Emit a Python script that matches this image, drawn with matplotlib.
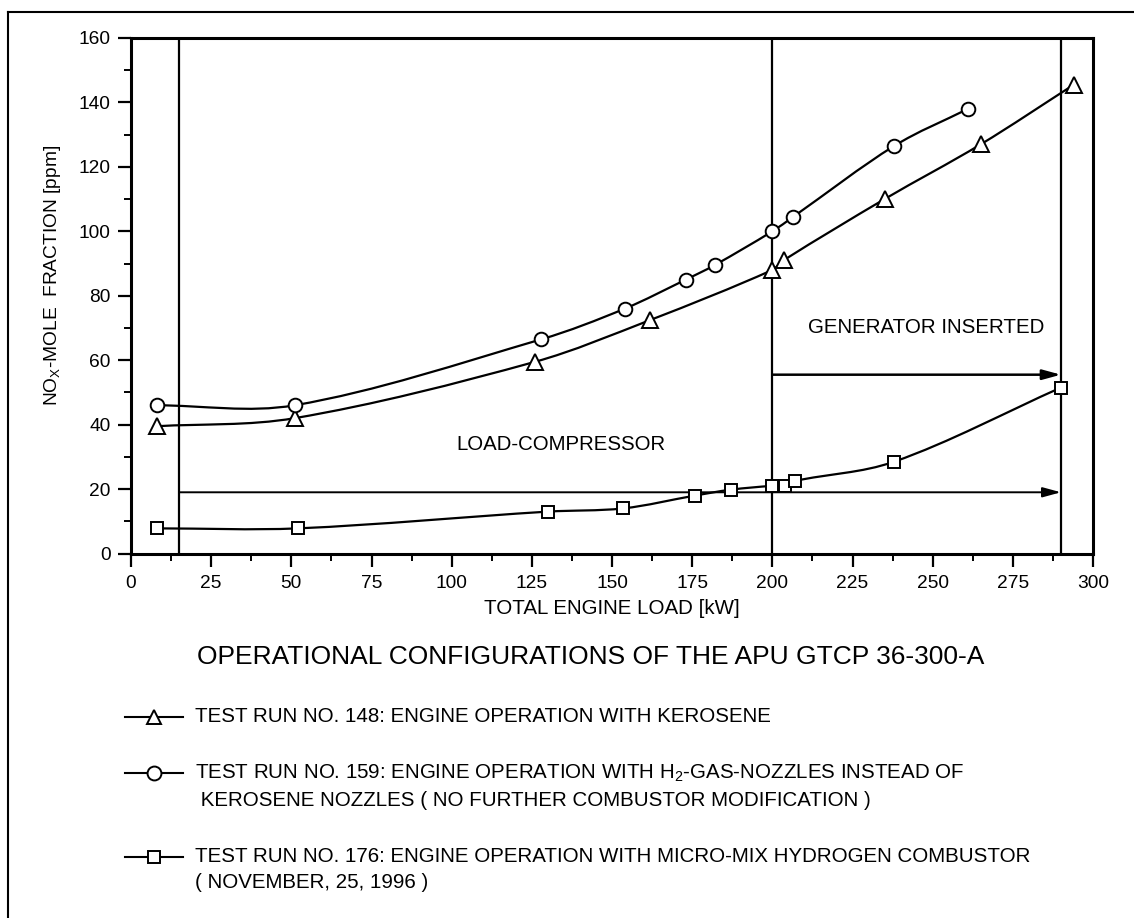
import matplotlib
matplotlib.use("Agg")
import matplotlib.pyplot as plt
import numpy as np
from matplotlib.path import Path
from matplotlib.patches import PathPatch
from matplotlib.lines import Line2D

plt.rcParams['font.family'] = ['Liberation Sans', 'DejaVu Sans']
plt.rcParams['mathtext.default'] = 'regular'

#----------------------------------Data--------------------------------------------------------------

# test run 148: kerosene (triangles)
run148_load = [8, 51, 126, 162, 200, 203.5, 235, 265, 294]
run148_nox = [39.5, 42, 59.5, 72.5, 88, 91, 110, 127, 145.5]

# test run 159: H2 gas nozzles (circles)
run159_load = [8, 51, 128, 154, 173, 182, 200, 206.5, 238, 261]
run159_nox = [46, 46, 66.5, 76, 85, 89.5, 100, 104.5, 126.5, 138]

# test run 176: micro-mix combustor (squares)
run176_load = [8, 52, 130, 153.5, 176, 187, 200, 204, 207, 238, 290]
run176_nox = [7.8, 7.8, 13, 14, 18, 19.8, 21, 21, 22.5, 28.5, 51.5]

x_ticks = [0, 25, 50, 75, 100, 125, 150, 175, 200, 225, 250, 275, 300]
y_ticks = [0, 20, 40, 60, 80, 100, 120, 140, 160]

# operating range boundaries [kW]
bound_lines = [15, 200, 290]

title = "OPERATIONAL CONFIGURATIONS OF THE APU GTCP 36-300-A"
legend_rows = [
    ("^", ["TEST RUN NO. 148: ENGINE OPERATION WITH KEROSENE"]),
    ("o", ["TEST RUN NO. 159: ENGINE OPERATION WITH H$_2$-GAS-NOZZLES INSTEAD OF",
           " KEROSENE NOZZLES ( NO FURTHER COMBUSTOR MODIFICATION )"]),
    ("s", ["TEST RUN NO. 176: ENGINE OPERATION WITH MICRO-MIX HYDROGEN COMBUSTOR",
           "( NOVEMBER, 25, 1996 )"]),
]

#----------------------------------Helpers------------------------------------------------------------

W, H = 1134, 918


def fx(px):
    return px / W


def fy(py):
    return 1 - py / H


def smooth_path(x, y):
    # cubic hermite curve through the points (secant slopes), as bezier segments
    x = np.asarray(x, float)
    y = np.asarray(y, float)
    m = np.empty_like(y)
    m[1:-1] = (y[2:] - y[:-2]) / (x[2:] - x[:-2])
    m[0] = (y[1] - y[0]) / (x[1] - x[0])
    m[-1] = (y[-1] - y[-2]) / (x[-1] - x[-2])
    verts = [(x[0], y[0])]
    codes = [Path.MOVETO]
    for i in range(len(x) - 1):
        h = (x[i + 1] - x[i]) / 3
        verts += [(x[i] + h, y[i] + m[i] * h),
                  (x[i + 1] - h, y[i + 1] - m[i + 1] * h),
                  (x[i + 1], y[i + 1])]
        codes += [Path.CURVE4] * 3
    return Path(verts, codes)


#----------------------------------Figure-------------------------------------------------------------

fig = plt.figure(figsize=(W / 100, H / 100), dpi=100)
ax = fig.add_axes([fx(131), fy(553.5), fx(1093) - fx(131), fy(38) - fy(553.5)])

ax.set_xlim(0, 300)
ax.set_ylim(0, 160)
ax.set_xticks(x_ticks)
ax.set_yticks(y_ticks)
ax.set_xticks(np.arange(12.5, 300, 25), minor=True)
ax.set_yticks(np.arange(10, 160, 20), minor=True)
ax.tick_params(which='major', direction='out', length=9.5, width=1.6,
               labelsize=13.8, pad=5)
ax.tick_params(which='minor', direction='out', length=5, width=1.4)
ax.tick_params(axis='x', which='major', pad=6)
for sp in ax.spines.values():
    sp.set_linewidth(2.2)

for xb in bound_lines:
    ax.axvline(xb, color='black', lw=1.6, zorder=2)

arrow_props = dict(arrowstyle='-|>,head_length=1.1,head_width=0.3',
                   color='black', lw=1.4, shrinkA=0, shrinkB=0)
ax.annotate('', xy=(290, 19), xytext=(15, 19), arrowprops=arrow_props)
ax.annotate('', xy=(290, 55.5), xytext=(200, 55.5),
            arrowprops=dict(arrow_props, lw=1.8))

ax.text(134, 33.8, "LOAD-COMPRESSOR", ha='center', va='center', fontsize=14.7)
ax.text(248, 70, "GENERATOR INSERTED", ha='center', va='center', fontsize=14.8)

series = [
    (run148_load, run148_nox, '^', 11),
    (run159_load, run159_nox, 'o', 9.8),
    (run176_load, run176_nox, 's', 9),
]
for xs, ys, mk, ms in series:
    ax.add_patch(PathPatch(smooth_path(xs, ys), fill=False, lw=1.6,
                           edgecolor='black', zorder=3))
    ax.plot(xs, ys, ls='none', marker=mk, ms=ms, mfc='white', mec='black',
            mew=1.4, zorder=4, clip_on=False)

fig.text(fx(53), fy(275), "NO$_X$-MOLE  FRACTION [ppm]", rotation=90,
         ha='center', va='center', fontsize=13.8)
fig.text(fx(612), fy(608), "TOTAL ENGINE LOAD [kW]", ha='center',
         va='center', fontsize=14.8)
fig.text(fx(197), fy(657), title, ha='left', va='center', fontsize=19)

row_y = [[717], [773, 800], [857, 883]]
for (mk, lines), ys in zip(legend_rows, row_y):
    fig.add_artist(Line2D([fx(125), fx(183)], [fy(ys[0])] * 2, color='black',
                          lw=1.5, transform=fig.transFigure))
    fig.add_artist(Line2D([fx(154)], [fy(ys[0])], marker=mk,
                          ms=10 if mk != 's' else 8.5,
                          mfc='white', mec='black', mew=1.4,
                          transform=fig.transFigure))
    for txt, yy in zip(lines, ys):
        fig.text(fx(195), fy(yy), txt, ha='left', va='center', fontsize=14.8)

# outer frame (left and top edge)
fig.add_artist(Line2D([fx(8), fx(8)], [fy(12), 0], color='black', lw=1.5,
                      transform=fig.transFigure))
fig.add_artist(Line2D([fx(8), 1], [fy(12), fy(12)], color='black', lw=1.5,
                      transform=fig.transFigure))

plt.savefig("out.png", dpi=100)
